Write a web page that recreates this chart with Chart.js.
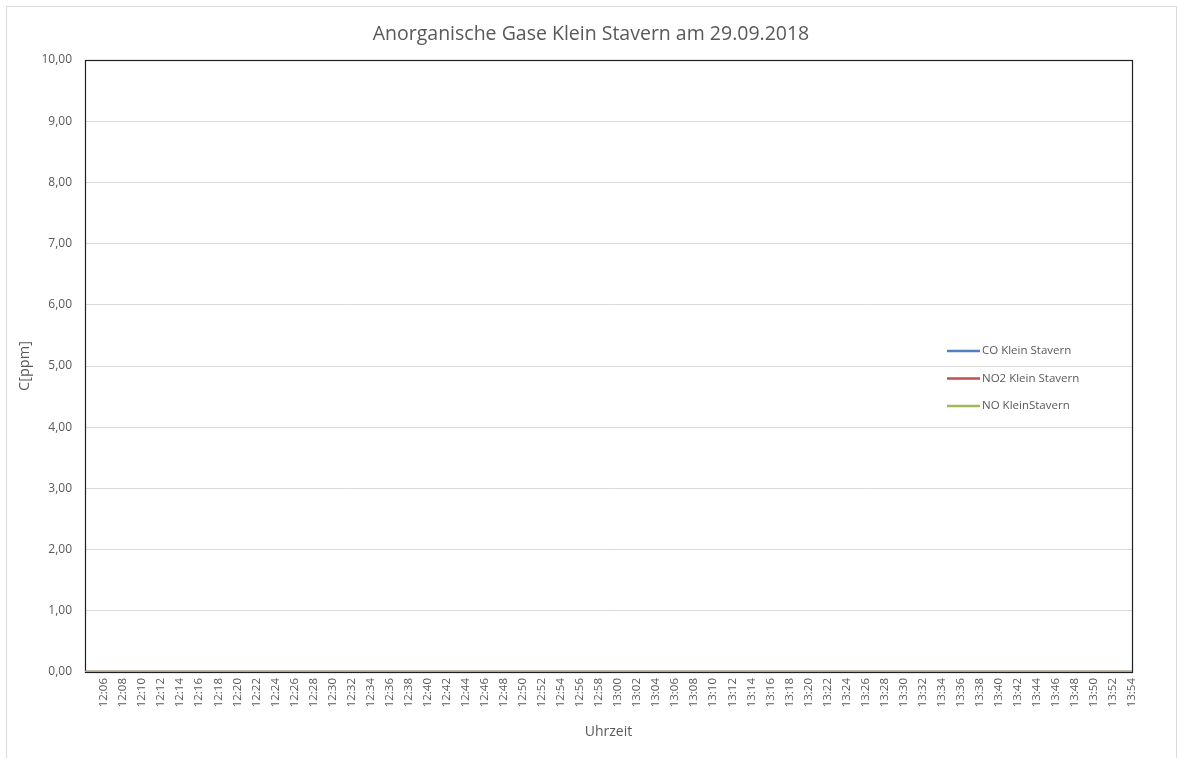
<!DOCTYPE html>
<html lang="de">
<head>
<meta charset="utf-8">
<title>Anorganische Gase Klein Stavern</title>
<script src="https://cdn.jsdelivr.net/npm/chart.js@4/dist/chart.umd.min.js"></script>
<style>
    html, body { margin: 0; padding: 0; background: #fff; }
    canvas { display: block; }
</style>
</head>
<body>
<canvas id="gaseChart" width="1178" height="758"></canvas>
<script>
// Messzeitpunkte (alle 2 Minuten)
const zeiten = [
    '12:04', '12:06', '12:08', '12:10', '12:12', '12:14', '12:16', '12:18', '12:20', '12:22',
    '12:24', '12:26', '12:28', '12:30', '12:32', '12:34', '12:36', '12:38', '12:40', '12:42',
    '12:44', '12:46', '12:48', '12:50', '12:52', '12:54', '12:56', '12:58', '13:00', '13:02',
    '13:04', '13:06', '13:08', '13:10', '13:12', '13:14', '13:16', '13:18', '13:20', '13:22',
    '13:24', '13:26', '13:28', '13:30', '13:32', '13:34', '13:36', '13:38', '13:40', '13:42',
    '13:44', '13:46', '13:48', '13:50', '13:52', '13:54'
];

// Werte in ppm
const coWerte = [
    0, 0, 0, 0, 0, 0, 0, 0, 0, 0, 0, 0, 0, 0, 0, 0, 0, 0, 0, 0, 0, 0, 0, 0, 0, 0, 0, 0,
    0, 0, 0, 0, 0, 0, 0, 0, 0, 0, 0, 0, 0, 0, 0, 0, 0, 0, 0, 0, 0, 0, 0, 0, 0, 0, 0, 0
];
const no2Werte = [
    0, 0, 0, 0, 0, 0, 0, 0, 0, 0, 0, 0, 0, 0, 0, 0, 0, 0, 0, 0, 0, 0, 0, 0, 0, 0, 0, 0,
    0, 0, 0, 0, 0, 0, 0, 0, 0, 0, 0, 0, 0, 0, 0, 0, 0, 0, 0, 0, 0, 0, 0, 0, 0, 0, 0, 0
];
const noWerte = [
    0, 0, 0, 0, 0, 0, 0, 0, 0, 0, 0, 0, 0, 0, 0, 0, 0, 0, 0, 0, 0, 0, 0, 0, 0, 0, 0, 0,
    0, 0, 0, 0, 0, 0, 0, 0, 0, 0, 0, 0, 0, 0, 0, 0, 0, 0, 0, 0, 0, 0, 0, 0, 0, 0, 0, 0
];

const yTickWerte = [0, 1, 2, 3, 4, 5, 6, 7, 8, 9, 10];
const xTickZeiten = zeiten.slice(1);

const toMin = (s) => { const [h, m] = s.split(':').map(Number); return h * 60 + m; };
const fmtZeit = (v) => `${Math.floor(v / 60)}:${String(v % 60).padStart(2, '0')}`;
const punkte = (werte) => zeiten.map((z, i) => ({ x: toMin(z), y: werte[i] }));

const GRAU = '#595959';
const FONT = '"Open Sans", "DejaVu Sans", sans-serif';

const rahmenPlugin = {
    id: 'rahmen',
    beforeDraw(chart) {
        const ctx = chart.ctx;
        ctx.save();
        ctx.strokeStyle = '#d9d9d9';
        ctx.lineWidth = 1;
        ctx.strokeRect(6.5, 6.5, 1170, 800);
        ctx.restore();
    },
    beforeDatasetsDraw(chart) {
        const a = chart.chartArea;
        const ctx = chart.ctx;
        ctx.save();
        ctx.strokeStyle = '#1f1f1f';
        ctx.lineWidth = 1.2;
        ctx.strokeRect(Math.round(a.left) + 0.5, Math.round(a.top) + 0.5, Math.round(a.right - a.left), Math.round(a.bottom - a.top));
        ctx.restore();
    }
};

const legendePlugin = {
    id: 'legende',
    afterDraw(chart) {
        const a = chart.chartArea;
        const ctx = chart.ctx;
        const x0 = a.right - 185;
        ctx.save();
        ctx.font = `11.5px ${FONT}`;
        ctx.textBaseline = 'middle';
        ctx.fillStyle = GRAU;
        chart.data.datasets.forEach((ds, i) => {
            const y = a.top + 291 + i * 27.5;
            ctx.strokeStyle = ds.borderColor;
            ctx.lineWidth = 2.5;
            ctx.beginPath();
            ctx.moveTo(x0, y);
            ctx.lineTo(x0 + 33, y);
            ctx.stroke();
            ctx.fillText(ds.label, x0 + 35, y);
        });
        ctx.restore();
    }
};

new Chart(document.getElementById('gaseChart').getContext('2d'), {
    type: 'line',
    data: {
        datasets: [
            { label: 'CO Klein Stavern', data: punkte(coWerte), borderColor: '#4f81bd', order: 2 },
            { label: 'NO2 Klein Stavern', data: punkte(no2Werte), borderColor: '#c0504d', order: 1 },
            { label: 'NO KleinStavern', data: punkte(noWerte), borderColor: '#9bbb59', order: 0 }
        ]
    },
    options: {
        responsive: false,
        animation: false,
        devicePixelRatio: 1,
        layout: { padding: { left: 4, right: 0, top: 0, bottom: 0 } },
        elements: {
            line: { borderWidth: 2.5, tension: 0 },
            point: { radius: 0, hoverRadius: 0 }
        },
        plugins: {
            legend: { display: false },
            tooltip: { enabled: false },
            title: {
                display: true,
                text: 'Anorganische Gase Klein Stavern am 29.09.2018',
                color: GRAU,
                font: { family: FONT, size: 19.5, weight: 'normal' },
                padding: { top: 23, bottom: 13.6 }
            }
        },
        scales: {
            x: {
                type: 'linear',
                min: toMin(zeiten[0]),
                max: toMin(zeiten[zeiten.length - 1]),
                afterBuildTicks: (scale) => { scale.ticks = xTickZeiten.map((z) => ({ value: toMin(z) })); },
                afterFit: (scale) => { scale.height = 86; },
                grid: { display: false, drawTicks: false },
                border: { display: false },
                ticks: {
                    autoSkip: false,
                    minRotation: 90,
                    maxRotation: 90,
                    padding: 6,
                    color: GRAU,
                    font: { family: FONT, size: 11.5 },
                    callback: (v) => fmtZeit(v)
                },
                title: {
                    display: true,
                    text: 'Uhrzeit',
                    color: GRAU,
                    font: { family: FONT, size: 14 },
                    padding: { top: 0, bottom: 18 }
                }
            },
            y: {
                min: 0,
                max: 10,
                afterBuildTicks: (scale) => { scale.ticks = yTickWerte.map((v) => ({ value: v })); },
                afterFit: (scale) => { scale.width = 81; },
                grid: { color: '#d9d9d9', drawTicks: false },
                border: { display: false },
                ticks: {
                    padding: 13,
                    color: GRAU,
                    font: { family: FONT, size: 12 },
                    callback: (v) => v.toFixed(2).replace('.', ',')
                },
                title: {
                    display: true,
                    text: 'C[ppm]',
                    color: GRAU,
                    font: { family: FONT, size: 14.5 },
                    padding: { top: 12, bottom: 0 }
                }
            },
            rechts: {
                position: 'right',
                afterFit: (scale) => { scale.width = 46; },
                grid: { display: false, drawTicks: false },
                border: { display: false },
                ticks: { display: false }
            }
        }
    },
    plugins: [rahmenPlugin, legendePlugin]
});
</script>
</body>
</html>
